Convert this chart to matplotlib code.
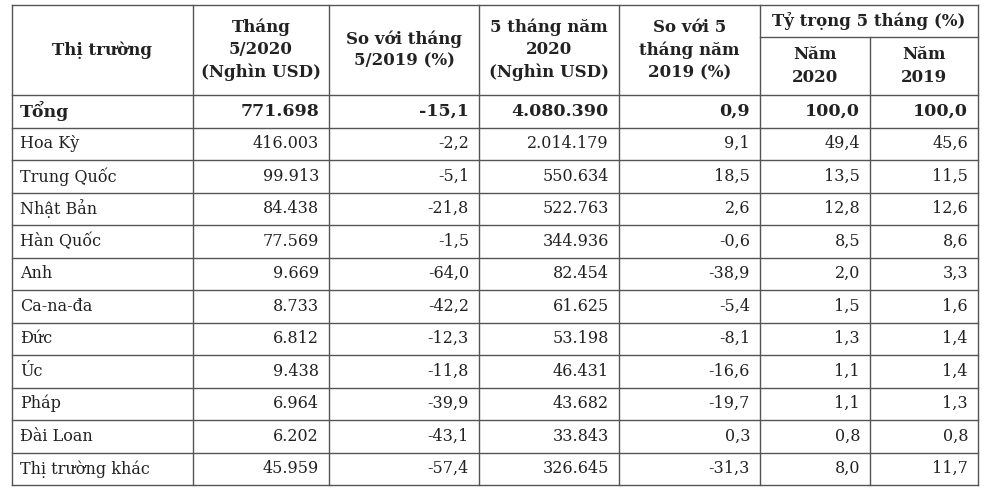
import matplotlib.pyplot as plt

markets = ["Tổng", "Hoa Kỳ", "Trung Quốc", "Nhật Bản", "Hàn Quốc", "Anh", "Ca-na-đa",
           "Đức", "Úc", "Pháp", "Đài Loan", "Thị trường khác"]
thang5_2020 = ["771.698", "416.003", "99.913", "84.438", "77.569", "9.669", "8.733",
               "6.812", "9.438", "6.964", "6.202", "45.959"]
so_voi_t5 = ["-15,1", "-2,2", "-5,1", "-21,8", "-1,5", "-64,0", "-42,2",
             "-12,3", "-11,8", "-39,9", "-43,1", "-57,4"]
nam5_2020 = ["4.080.390", "2.014.179", "550.634", "522.763", "344.936", "82.454", "61.625",
             "53.198", "46.431", "43.682", "33.843", "326.645"]
so_voi_5t = ["0,9", "9,1", "18,5", "2,6", "-0,6", "-38,9", "-5,4",
             "-8,1", "-16,6", "-19,7", "0,3", "-31,3"]
tt_2020 = ["100,0", "49,4", "13,5", "12,8", "8,5", "2,0", "1,5", "1,3", "1,1", "1,1", "0,8", "8,0"]
tt_2019 = ["100,0", "45,6", "11,5", "12,6", "8,6", "3,3", "1,6", "1,4", "1,4", "1,3", "0,8", "11,7"]

W, H = 990, 493
fig = plt.figure(figsize=(W / 100, H / 100), dpi=100)
ax = fig.add_axes([0, 0, 1, 1])
ax.set_xlim(0, W)
ax.set_ylim(H, 0)
ax.axis("off")

font = "DejaVu Serif"
lc = "#555555"
cols = [12, 193, 329, 479, 619, 760, 870, 978]
top, head_bot, sub = 5, 95, 37
n = len(markets)
rh = (485 - head_bot) / n
bottom = head_bot + n * rh

# grid
for i, x in enumerate(cols):
    y0 = top if i != 6 else sub
    ax.plot([x, x], [y0, bottom], color=lc, lw=1)
ax.plot([cols[0], cols[-1]], [top, top], color=lc, lw=1)
ax.plot([cols[5], cols[-1]], [sub, sub], color=lc, lw=1)
for r in range(n + 1):
    y = head_bot + r * rh
    ax.plot([cols[0], cols[-1]], [y, y], color=lc, lw=1)

# headers
hk = dict(fontsize=12, fontweight="bold", family=font, ha="center", va="center",
          color="#222222", linespacing=1.4)
mid = lambda a, b: (cols[a] + cols[b]) / 2
ax.text(mid(0, 1), 50, "Thị trường", **hk)
ax.text(mid(1, 2), 50, "Tháng\n5/2020\n(Nghìn USD)", **hk)
ax.text(mid(2, 3), 50, "So với tháng\n5/2019 (%)", **hk)
ax.text(mid(3, 4), 50, "5 tháng năm\n2020\n(Nghìn USD)", **hk)
ax.text(mid(4, 5), 50, "So với 5\ntháng năm\n2019 (%)", **hk)
ax.text(mid(5, 7), 21, "Tỷ trọng 5 tháng (%)", **hk)
ax.text(mid(5, 6), 66, "Năm\n2020", **hk)
ax.text(mid(6, 7), 66, "Năm\n2019", **hk)

# body
for r in range(n):
    yc = head_bot + (r + 0.5) * rh
    bold = r == 0
    kw = dict(fontsize=12.5 if bold else 11.5, fontweight="bold" if bold else "normal",
              family=font, va="center", color="#222222")
    ax.text(cols[0] + 8, yc, markets[r], ha="left", **kw)
    vals = [thang5_2020[r], so_voi_t5[r], nam5_2020[r], so_voi_5t[r], tt_2020[r], tt_2019[r]]
    for c, v in enumerate(vals):
        ax.text(cols[c + 2] - 10, yc, v, ha="right", **kw)

fig.savefig("out.png", dpi=100)
